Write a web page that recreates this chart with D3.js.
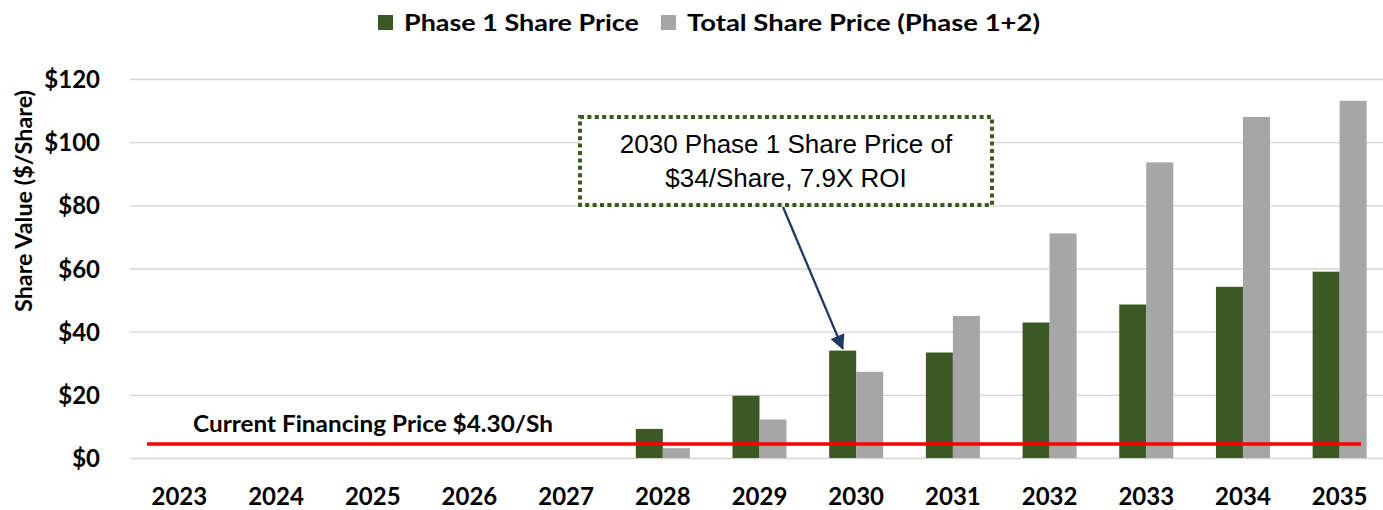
<!DOCTYPE html>
<html>
<head>
    <meta charset="utf-8">
    <title>Share Value</title>
    <script src="https://d3js.org/d3.v7.min.js"></script>
    <style>
        body {
            margin: 0;
            background: #fff;
        }
        .grid line {
            stroke: #d4d4d4;
            stroke-width: 1.3px;
        }
        .lbl {
            font-family: Lato, "Open Sans", sans-serif;
            font-weight: bold;
            fill: #000;
        }
    </style>
</head>
<body>
    <svg id="chart" width="1383" height="510"></svg>
    <script>
        // data
        var years = ["2023", "2024", "2025", "2026", "2027", "2028", "2029", "2030", "2031", "2032", "2033", "2034", "2035"];
        var phase1 = [0, 0, 0, 0, 0, 9.2, 19.7, 34.0, 33.4, 42.9, 48.6, 54.2, 59.0];
        var total = [0, 0, 0, 0, 0, 3.1, 12.2, 27.3, 45.0, 71.1, 93.6, 108.0, 113.1];
        var seriesNames = ["Phase 1 Share Price", "Total Share Price (Phase 1+2)"];
        var seriesColors = ["#3c5824", "#a6a6a6"];
        var yTicks = [0, 20, 40, 60, 80, 100, 120];
        var financingPrice = 4.3;
        var financingLabel = "Current Financing Price $4.30/Sh";
        var noteLines = ["2030 Phase 1 Share Price of", "$34/Share, 7.9X ROI"];

        var svg = d3.select("#chart");
        var plotLeft = 131, plotRight = 1388, plotTop = 79, plotBottom = 458;

        var x0 = d3.scaleBand().domain(years).range([plotLeft, plotRight]).padding(0);
        var x1 = d3.scaleBand().domain([0, 1]).range([0, x0.bandwidth()]).paddingInner(0).paddingOuter(0.79);
        var y = d3.scaleLinear().domain([0, 120]).range([plotBottom, plotTop]);

        // gridlines
        svg.append("g").attr("class", "grid")
            .selectAll("line").data(yTicks).enter().append("line")
            .attr("x1", plotLeft - 1).attr("x2", 1383)
            .attr("y1", function(d) { return y(d) + 0.5; })
            .attr("y2", function(d) { return y(d) + 0.5; });

        // y axis labels
        var yAxis = d3.axisLeft(y).tickValues(yTicks).tickSize(0).tickPadding(0)
            .tickFormat(function(d) { return "$" + d; });
        var ya = svg.append("g").attr("transform", "translate(100,0)").call(yAxis);
        ya.select(".domain").remove();
        ya.selectAll("text").attr("class", "lbl").style("font-size", "24px").attr("dy", "0.36em");

        // x axis labels
        var xAxis = d3.axisBottom(x0).tickSize(0).tickPadding(0);
        var xa = svg.append("g").attr("transform", "translate(0,488)").call(xAxis);
        xa.select(".domain").remove();
        xa.selectAll("text").attr("class", "lbl").style("font-size", "24px").attr("dy", "0.72em");

        // bars
        var rows = years.map(function(yr, i) { return { year: yr, vals: [phase1[i], total[i]] }; });
        var groups = svg.append("g").selectAll("g").data(rows).enter().append("g")
            .attr("transform", function(d) { return "translate(" + x0(d.year) + ",0)"; });
        groups.selectAll("rect")
            .data(function(d) { return d.vals.map(function(v, k) { return { k: k, v: v }; }); })
            .enter().append("rect")
            .attr("x", function(d) { return x1(d.k); })
            .attr("width", x1.bandwidth())
            .attr("y", function(d) { return y(d.v); })
            .attr("height", function(d) { return plotBottom - y(d.v); })
            .attr("fill", function(d) { return seriesColors[d.k]; });

        // financing price line
        svg.append("line")
            .attr("x1", 147).attr("x2", 1361)
            .attr("y1", y(financingPrice) - 0.5).attr("y2", y(financingPrice) - 0.5)
            .attr("stroke", "#ff0000").attr("stroke-width", 3.5);
        svg.append("text").attr("class", "lbl")
            .attr("x", 193).attr("y", 432)
            .attr("textLength", 360).attr("lengthAdjust", "spacingAndGlyphs")
            .style("font-size", "22px")
            .text(financingLabel);

        // y axis title
        svg.append("text").attr("class", "lbl")
            .attr("transform", "translate(32,201) rotate(-90)")
            .attr("text-anchor", "middle")
            .attr("textLength", 222).attr("lengthAdjust", "spacingAndGlyphs")
            .style("font-size", "23px")
            .text("Share Value ($/Share)");

        // legend
        var legendX = [378, 661];
        var legendW = [235, 353];
        var leg = svg.append("g");
        seriesNames.forEach(function(name, i) {
            leg.append("rect").attr("x", legendX[i]).attr("y", 15)
                .attr("width", 15).attr("height", 15).attr("fill", seriesColors[i]);
            leg.append("text").attr("class", "lbl")
                .attr("x", legendX[i] + 26).attr("y", 31)
                .attr("textLength", legendW[i]).attr("lengthAdjust", "spacingAndGlyphs")
                .style("font-size", "22px")
                .text(name);
        });

        // annotation box with arrow
        var defs = svg.append("defs");
        defs.append("marker").attr("id", "arrow")
            .attr("viewBox", "0 0 10 10").attr("refX", 9).attr("refY", 5)
            .attr("markerWidth", 7).attr("markerHeight", 6.5)
            .attr("markerUnits", "strokeWidth")
            .attr("orient", "auto")
            .append("path").attr("d", "M0,0L10,5L0,10Z").attr("fill", "#1f3864");

        var tipX = x0("2030") + x1(0) + x1.bandwidth() / 2;
        var tipY = y(phase1[7]) - 2;
        svg.append("line")
            .attr("x1", 783).attr("y1", 207)
            .attr("x2", tipX).attr("y2", tipY)
            .attr("stroke", "#1f3864").attr("stroke-width", 2.3)
            .attr("marker-end", "url(#arrow)");

        svg.append("rect")
            .attr("x", 580).attr("y", 117).attr("width", 412).attr("height", 88)
            .attr("fill", "#fff")
            .attr("stroke", "#3a5a1e").attr("stroke-width", 4)
            .attr("stroke-dasharray", "4,3.4");

        svg.append("g").selectAll("text").data(noteLines).enter().append("text")
            .attr("x", 786)
            .attr("y", function(d, i) { return 153 + i * 34; })
            .attr("text-anchor", "middle")
            .style("font-family", "'Liberation Sans', Arial, sans-serif")
            .style("font-size", "26px")
            .attr("fill", "#000")
            .text(function(d) { return d; });
    </script>
</body>
</html>
